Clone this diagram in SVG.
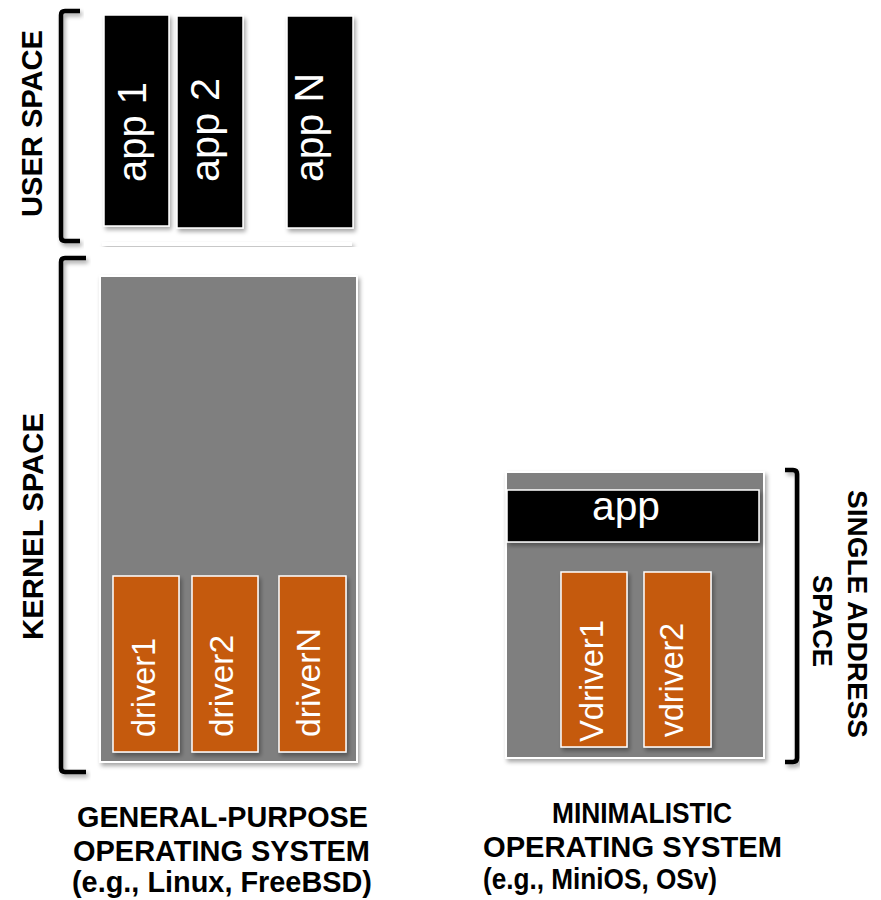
<svg xmlns="http://www.w3.org/2000/svg" width="881" height="900" viewBox="0 0 881 900">
<defs>
<filter id="sh" x="-20%" y="-20%" width="140%" height="140%">
<feDropShadow dx="2" dy="3" stdDeviation="2" flood-color="#000" flood-opacity="0.35"/>
</filter>
</defs>
<style>
.app{fill:#000;stroke:#fff;stroke-width:1.5;filter:url(#sh)}
.os{fill:#7f7f7f;stroke:#fff;stroke-width:2;filter:url(#sh)}
.drv{fill:#c55a11;stroke:#fff;stroke-width:1.5;filter:url(#sh)}
.wt{fill:#fff;font-family:"Liberation Sans",Arial,sans-serif}
.lbl{fill:#000;font-family:"Liberation Sans",Arial,sans-serif;font-weight:bold}
.br{fill:none;stroke:#000;stroke-width:4.5;stroke-linejoin:round;filter:url(#sh)}
</style>
<rect width="881" height="900" fill="#fff"/>
<g id="brackets">
<path class="br" d="M80,11 L65,11 Q61,11 61,15 L61,237 Q61,241 65,241 L80,241"/>
<path class="br" d="M86,258 L65,258 Q61,258 61,262 L61,768 Q61,772 65,772 L86,772"/>
<path class="br" d="M785,470 L793,470 Q797,470 797,474 L797,758 Q797,762 793,762 L785,762"/>
</g>
<g id="labels">
<text class="lbl" font-size="29" transform="translate(42,217) rotate(-90)" textLength="187" lengthAdjust="spacingAndGlyphs">USER SPACE</text>
<text class="lbl" font-size="29" transform="translate(43,640) rotate(-90)" textLength="227" lengthAdjust="spacingAndGlyphs">KERNEL SPACE</text>
<text class="lbl" font-size="28" transform="translate(848,490) rotate(90)" textLength="248" lengthAdjust="spacingAndGlyphs">SINGLE ADDRESS</text>
<text class="lbl" font-size="28" transform="translate(813,575) rotate(90)" textLength="92" lengthAdjust="spacingAndGlyphs">SPACE</text>
</g>
<g id="user-apps">
<g id="app1"><rect class="app" x="104" y="15" width="65" height="211"/>
<text class="wt" font-size="40" transform="translate(146,182) rotate(-90)" textLength="100" lengthAdjust="spacingAndGlyphs">app 1</text></g>
<g id="app2"><rect class="app" x="177" y="16" width="66" height="212"/>
<text class="wt" font-size="40" transform="translate(219,182) rotate(-90)" textLength="104" lengthAdjust="spacingAndGlyphs">app 2</text></g>
<g id="appN"><rect class="app" x="287" y="16" width="66" height="212"/>
<text class="wt" font-size="40" transform="translate(323,182) rotate(-90)" textLength="109" lengthAdjust="spacingAndGlyphs">app N</text></g>
</g>
<g id="separator"><rect x="102" y="242" width="250" height="4" fill="#fff" filter="url(#sh)"/></g>
<g id="gpos">
<rect class="os" x="100" y="276" width="257" height="486"/>
<g id="driver1"><rect class="drv" x="113" y="576" width="66" height="176"/>
<text class="wt" font-size="34" transform="translate(155,737) rotate(-90)" textLength="99" lengthAdjust="spacingAndGlyphs">driver1</text></g>
<g id="driver2"><rect class="drv" x="192" y="576" width="66" height="176"/>
<text class="wt" font-size="34" transform="translate(233,737) rotate(-90)" textLength="102" lengthAdjust="spacingAndGlyphs">driver2</text></g>
<g id="driverN"><rect class="drv" x="279" y="576" width="67" height="176"/>
<text class="wt" font-size="34" transform="translate(320,737) rotate(-90)" textLength="109" lengthAdjust="spacingAndGlyphs">driverN</text></g>
</g>
<g id="minos">
<rect class="os" x="506" y="472" width="258" height="286"/>
<g id="app"><rect class="app" x="507" y="490" width="252" height="52"/>
<text class="wt" font-size="40" x="592" y="520" textLength="68" lengthAdjust="spacingAndGlyphs">app</text></g>
<g id="vdriver1"><rect class="drv" x="561" y="572" width="66" height="175"/>
<text class="wt" font-size="34" transform="translate(603,742) rotate(-90)" textLength="122" lengthAdjust="spacingAndGlyphs">Vdriver1</text></g>
<g id="vdriver2"><rect class="drv" x="644" y="572" width="67" height="175"/>
<text class="wt" font-size="34" transform="translate(683,737) rotate(-90)" textLength="114" lengthAdjust="spacingAndGlyphs">vdriver2</text></g>
</g>
<g id="captions">
<text class="lbl" font-size="29" x="77" y="827" textLength="291" lengthAdjust="spacingAndGlyphs">GENERAL-PURPOSE</text>
<text class="lbl" font-size="29" x="73" y="861" textLength="297" lengthAdjust="spacingAndGlyphs">OPERATING SYSTEM</text>
<text class="lbl" font-size="29" x="72" y="892" textLength="300" lengthAdjust="spacingAndGlyphs">(e.g., Linux, FreeBSD)</text>
<text class="lbl" font-size="29" x="552" y="823" textLength="180" lengthAdjust="spacingAndGlyphs">MINIMALISTIC</text>
<text class="lbl" font-size="29" x="483" y="857" textLength="299" lengthAdjust="spacingAndGlyphs">OPERATING SYSTEM</text>
<text class="lbl" font-size="29" x="483" y="889" textLength="234" lengthAdjust="spacingAndGlyphs">(e.g., MiniOS, OSv)</text>
</g>
</svg>
